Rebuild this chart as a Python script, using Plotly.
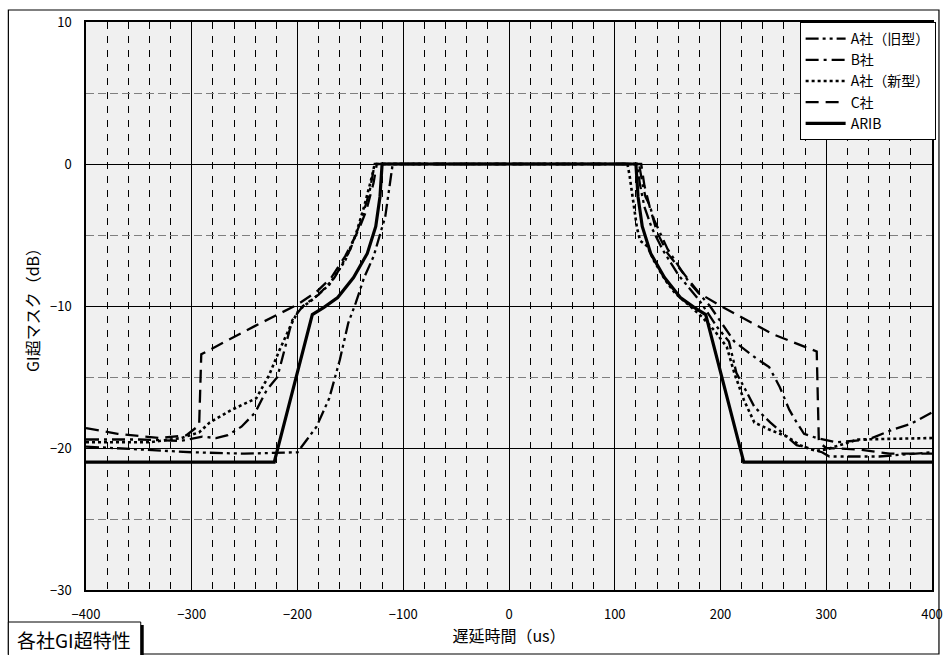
import plotly.graph_objects as go

# ---- data: GI-exceeding mask per maker (delay in us, level in dB) ----
a_old_x = [-400, -350, -300, -250, -200, -191, -182, -170, -160, -152, -145, -137, -128, -117, -113, -110,
           121, 124, 128, 135, 145, 160, 180, 197, 208, 215, 225, 232, 247, 258, 272, 296, 303, 350, 400]
a_old_y = [-19.9, -20.1, -20.3, -20.4, -20.3, -19.4, -18.5, -16.5, -13.8, -11.2, -9.8, -8.0, -6.5, -3.7, -1.6, 0,
           0, -1.5, -3.0, -4.5, -6.0, -7.8, -9.6, -11.5, -12.5, -14.7, -16.1, -17.1, -18.2, -18.9, -19.8, -20.3, -20.6, -20.6, -20.3]

b_x = [-400, -350, -310, -290, -277, -266, -253, -240, -229, -219, -212, -205, -195, -180, -165, -150, -140, -132, -127,
       123, 126, 129, 133, 137, 150, 170, 190, 213, 234, 246, 256, 265, 272, 279, 291, 310, 340, 363, 380, 400]
b_y = [-19.4, -19.4, -19.5, -19.2, -19.3, -19.1, -18.5, -17.5, -15.9, -15.0, -13.0, -11.0, -10.0, -9.2, -8.0, -6.0, -4.0, -2.0, 0,
       0, -1.3, -2.3, -2.9, -3.9, -6.0, -8.3, -10.0, -12.5, -13.7, -14.3, -15.7, -17.3, -18.2, -19.0, -19.3, -19.6, -19.4, -18.7, -18.3, -17.5]

a_new_x = [-400, -340, -310, -293, -283, -262, -239, -227, -217, -206, -199, -185, -170, -155, -145, -137, -130, -127,
           112, 114, 121, 124, 131, 137, 148, 157, 168, 183, 195, 206, 213, 222, 232, 246, 263, 275, 290, 300, 330, 400]
a_new_y = [-19.6, -19.6, -19.3, -18.9, -18.2, -17.3, -16.5, -14.9, -13.1, -11.3, -10.3, -9.5, -8.5, -6.8, -5.0, -3.0, -1.0, 0,
           0, -0.8, -4.5, -5.4, -5.8, -6.8, -8.2, -9.1, -9.8, -10.8, -11.8, -12.9, -14.7, -16.6, -18.2, -18.7, -19.2, -19.8, -20.2, -20.1, -19.4, -19.3]

c_x = [-400, -370, -330, -305, -293, -291, -240, -200, -182, -168, -155, -142, -135, -128, -125,
       125, 128, 133, 140, 150, 165, 180, 200, 250, 291, 293, 300, 330, 360, 400]
c_y = [-18.6, -19.0, -19.3, -19.1, -18.4, -13.4, -11.4, -9.9, -9.0, -8.0, -6.5, -4.6, -3.3, -1.3, 0,
       0, -1.5, -3.0, -4.8, -6.3, -7.7, -9.1, -10.0, -12.0, -13.2, -19.6, -20.0, -20.1, -20.4, -20.4]

arib_x = [-400, -222, -186, -175, -162, -147, -134, -126, -122, -120,
          120, 122, 126, 134, 147, 162, 175, 186, 222, 400]
arib_y = [-21, -21, -10.6, -10.1, -9.4, -8.0, -6.3, -4.4, -2.3, 0,
          0, -2.3, -4.4, -6.3, -8.0, -9.4, -10.1, -10.6, -21, -21]

series_names = ["A社（旧型）", "B社", "A社（新型）", "C社", "ARIB"]

x_ticks = [-400, -300, -200, -100, 0, 100, 200, 300, 400]
y_ticks = [-30, -20, -10, 0, 10]

FONT = "Noto Sans CJK JP, Noto Sans, sans-serif"

# figure geometry (pixels)
W, H = 945, 655
PL, PR, PT, PB = 86, 936, 22, 590


def px(x):
    return (x - PL) / (PR - PL)


def py(y):
    return (PB - y) / (PB - PT)


styles = [
    dict(dash="13px,4px,3px,4px,3px,4px", width=2.3),
    dict(dash="13px,5px,3px,5px", width=2.3),
    dict(dash="3px,3px", width=2.6),
    dict(dash="13px,7px", width=2.3),
    dict(dash="solid", width=3.2),
]
data = [(a_old_x, a_old_y), (b_x, b_y), (a_new_x, a_new_y), (c_x, c_y), (arib_x, arib_y)]

fig = go.Figure()
for (xs, ys), name, st in zip(data, series_names, styles):
    fig.add_trace(go.Scatter(x=xs, y=ys, mode="lines", name=name,
                             line=dict(color="black", width=st["width"], dash=st["dash"])))

fig.update_xaxes(
    range=[-400, 400], tickvals=x_ticks, showgrid=True, gridcolor="#000000", gridwidth=1,
    zeroline=False, showline=True, linecolor="black", linewidth=1.5, mirror=True, automargin=False,
    ticks="", tickfont=dict(family=FONT, size=13, color="black"), ticklabelstandoff=12,
    minor=dict(dtick=20, showgrid=True, gridcolor="#000000", gridwidth=1, griddash="7px,7px"),
    title=dict(text="遅延時間（us）", font=dict(family=FONT, size=16, color="black"), standoff=6),
)
fig.update_yaxes(
    range=[-30, 10], tickvals=y_ticks, showgrid=True, gridcolor="#000000", gridwidth=1,
    zeroline=False, showline=True, linecolor="black", linewidth=1.5, mirror=True, automargin=False,
    ticks="inside", ticklen=5, tickcolor="black",
    tickfont=dict(family=FONT, size=13, color="black"), ticklabelstandoff=10,
    minor=dict(dtick=5, showgrid=True, gridcolor="#7f7f7f", gridwidth=1.2, griddash="8px,4px"),
    title=dict(text="GI超マスク（dB）", font=dict(family=FONT, size=16, color="black"), standoff=6),
)

shapes = [
    # outer frame
    dict(type="rect", xref="paper", yref="paper", x0=px(8), x1=px(943), y0=py(654), y1=py(10),
         line=dict(color="black", width=1.2), layer="below"),
    # legend drop shadow
    dict(type="rect", xref="paper", yref="paper", x0=px(806), x1=px(939), y0=py(139), y1=py(25),
         fillcolor="black", line=dict(width=0), layer="above"),
    # caption box shadow and box
    dict(type="rect", xref="paper", yref="paper", x0=px(11), x1=px(144), y0=py(656), y1=py(625),
         fillcolor="black", line=dict(width=0)),
    dict(type="rect", xref="paper", yref="paper", x0=px(8), x1=px(141), y0=py(656), y1=py(622),
         fillcolor="white", line=dict(color="black", width=1)),
]

fig.update_layout(
    width=W, height=H,
    margin=dict(l=PL, r=W - PR, t=PT, b=H - PB),
    paper_bgcolor="white", plot_bgcolor="#f0f0f0",
    font=dict(family=FONT, color="black"),
    shapes=shapes,
    showlegend=True,
    legend=dict(x=px(803), y=1, xanchor="left", yanchor="top", bgcolor="white",
                bordercolor="black", borderwidth=1, font=dict(family=FONT, size=14),
                tracegroupgap=0, itemwidth=40),
    annotations=[
        dict(text="各社GI超特性", xref="paper", yref="paper", x=px(74), y=py(639),
             xanchor="center", yanchor="middle", showarrow=False,
             font=dict(family=FONT, size=19, color="black")),
    ],
)

fig.write_html("out.html")
